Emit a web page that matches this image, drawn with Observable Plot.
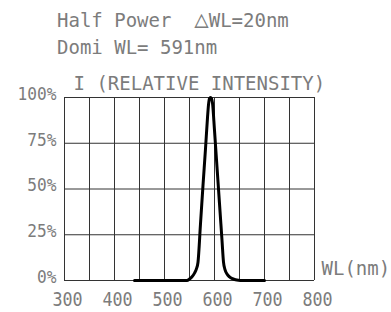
<!DOCTYPE html>
<html><head><meta charset="utf-8">
<script src="https://cdn.jsdelivr.net/npm/d3@7"></script>
<script src="https://cdn.jsdelivr.net/npm/@observablehq/plot@0.6"></script>
<style>
body{margin:0;background:#fff;}
#wrap{position:relative;width:391px;height:312px;font-family:"DejaVu Sans Mono";color:#7c7c7c;}
.t{position:absolute;left:57px;white-space:pre;font-size:19px;line-height:1;}
.tri{font-size:24px;line-height:0;}
#chart{position:absolute;left:0;top:0;}
</style></head><body>
<div id="wrap"><div id="chart"></div></div>
<script>
const titleLines = ["Half Power  \u25B3WL=20nm", "Domi WL= 591nm"];
const wavelengths = [440, 500, 545, 550, 555, 560, 564, 567, 572, 577, 582, 586, 588, 590, 592, 594, 596, 600, 605, 610, 615, 618, 621, 625, 630, 636, 642, 648, 655, 700];
const intensities = [0, 0, 0, 0.8, 2, 4, 6.5, 10, 31, 52, 72, 89, 96, 99.5, 100, 99.5, 97, 82, 62, 42, 22, 10, 6, 3.5, 2, 1, 0.4, 0.1, 0, 0];
const xTicks = [300, 400, 500, 600, 700, 800];
const xGrid = [300, 350, 400, 450, 500, 550, 600, 650, 700, 750, 800];
const yTicks = [0, 25, 50, 75, 100];
const xLabel = "WL(nm)";
const yLabel = "I (RELATIVE INTENSITY)";

const data = wavelengths.map((w, i) => ({wl: w, v: intensities[i]}));

const wrap = document.getElementById("wrap");
titleLines.forEach((s, i) => {
  const d = document.createElement("div");
  d.className = "t";
  d.style.top = (11 + i * 27) + "px";
  s.split(/(\u25B3)/).forEach(part => {
    if (part === "\u25B3") {
      const sp = document.createElement("span");
      sp.className = "tri";
      sp.textContent = part;
      d.appendChild(sp);
    } else if (part) {
      d.appendChild(document.createTextNode(part));
    }
  });
  wrap.appendChild(d);
});

const chart = Plot.plot({
  width: 391,
  height: 312,
  marginLeft: 64,
  marginRight: 77,
  marginTop: 97,
  marginBottom: 32,
  style: {fontFamily: "DejaVu Sans Mono", color: "#7c7c7c", background: "transparent"},
  x: {domain: [300, 800]},
  y: {domain: [0, 100]},
  marks: [
    Plot.ruleX(xGrid, {stroke: "#333", strokeWidth: 1}),
    Plot.ruleY(yTicks, {stroke: "#333", strokeWidth: 1}),
    Plot.axisX(xTicks, {tickSize: 0, tickPadding: 12, fontSize: 19, dx: 3, label: null}),
    Plot.axisY(yTicks, {tickSize: 0, tickPadding: 8, fontSize: 17, dy: -3, tickFormat: d => d + "%", label: null}),
    Plot.line(data, {x: "wl", y: "v", stroke: "black", strokeWidth: 3, curve: "monotone-x", strokeLinejoin: "round"}),
    Plot.text([xLabel], {text: d => d, ariaLabel: "x-label", frameAnchor: "bottom-right", textAnchor: "start", dx: 7, dy: -6, fontSize: 19, fill: "#7c7c7c"}),
    Plot.text([yLabel], {text: d => d, ariaLabel: "y-label", frameAnchor: "top-left", textAnchor: "start", dx: 9, dy: -21, fontSize: 19, fill: "#7c7c7c"})
  ]
});
document.getElementById("chart").appendChild(chart);

// narrow the stroke-font-like labels
function squeeze(sel, k) {
  chart.querySelectorAll(sel).forEach(t => {
    const L = t.getComputedTextLength();
    t.setAttribute("textLength", (L * k).toFixed(1));
    t.setAttribute("lengthAdjust", "spacingAndGlyphs");
  });
}
squeeze('g[aria-label="x-axis tick label"] text', 0.88);
squeeze('g[aria-label="y-axis tick label"] text', 0.95);
squeeze('g[aria-label="x-label"] text', 0.97);
</script>
</body></html>
